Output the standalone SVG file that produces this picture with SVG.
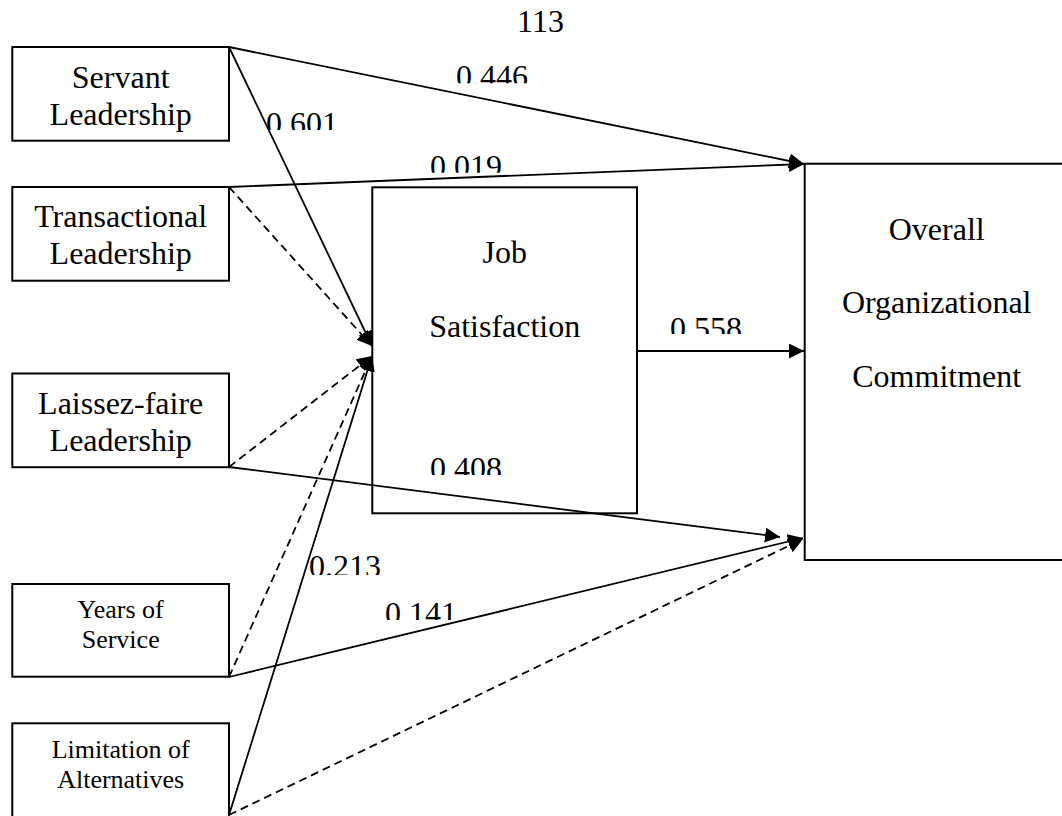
<svg xmlns="http://www.w3.org/2000/svg" width="1062" height="816" viewBox="0 0 1062 816">
  <style>
    .box { fill: #fff; stroke: #000; stroke-width: 2; }
    .lbl { font-family: "Liberation Serif", "Times New Roman", serif; font-size: 32px; fill: #000; text-anchor: middle; }
    .sm { font-size: 26px; }
    .coef { font-family: "Liberation Serif", "Times New Roman", serif; font-size: 32px; fill: #000; }
    .path { fill: none; stroke: #000; stroke-width: 1.8; }
    .dash { stroke-dasharray: 8 5; }
  </style>
  <defs>
    <marker id="arrow" markerUnits="userSpaceOnUse" markerWidth="16" markerHeight="16" refX="15" refY="7.5" orient="auto">
      <path d="M0,0 L15,7.5 L0,15 Z" fill="#000"/>
    </marker>
    <!-- coefficient labels sit in short text frames that cut off the bottom of the digits -->
    <clipPath id="c446" clipPathUnits="userSpaceOnUse"><rect x="450" y="55" width="90" height="28.3"/></clipPath>
    <clipPath id="c601" clipPathUnits="userSpaceOnUse"><rect x="260" y="100" width="90" height="30"/></clipPath>
    <clipPath id="c019" clipPathUnits="userSpaceOnUse"><rect x="424" y="145" width="90" height="27.7"/></clipPath>
    <clipPath id="c558" clipPathUnits="userSpaceOnUse"><rect x="664" y="305" width="90" height="29"/></clipPath>
    <clipPath id="c408" clipPathUnits="userSpaceOnUse"><rect x="424" y="445" width="90" height="30"/></clipPath>
    <clipPath id="c213" clipPathUnits="userSpaceOnUse"><rect x="303" y="545" width="90" height="30"/></clipPath>
    <clipPath id="c141" clipPathUnits="userSpaceOnUse"><rect x="379" y="590" width="90" height="30"/></clipPath>
  </defs>

  <rect width="1062" height="816" fill="#fff"/>

  <text class="lbl" x="540.5" y="32.3">113</text>

  <!-- nodes -->
  <g id="servant">
    <rect class="box" x="12.3" y="47" width="216.7" height="93.7"/>
    <text class="lbl" x="120.7" y="87.5">Servant</text>
    <text class="lbl" x="120.7" y="124.5">Leadership</text>
  </g>
  <g id="transactional">
    <rect class="box" x="12.3" y="187" width="216.7" height="93.7"/>
    <text class="lbl" x="120.7" y="227">Transactional</text>
    <text class="lbl" x="120.7" y="264">Leadership</text>
  </g>
  <g id="laissez-faire">
    <rect class="box" x="12.3" y="373.5" width="216.7" height="93.7"/>
    <text class="lbl" x="120.7" y="413.5">Laissez-faire</text>
    <text class="lbl" x="120.7" y="450.5">Leadership</text>
  </g>
  <g id="years-of-service">
    <rect class="box" x="12.3" y="584" width="216.7" height="92.7"/>
    <text class="lbl sm" x="120.7" y="618.3">Years of</text>
    <text class="lbl sm" x="120.7" y="648.3">Service</text>
  </g>
  <g id="limitation-of-alternatives">
    <rect class="box" x="12.3" y="723.3" width="216.7" height="100"/>
    <text class="lbl sm" x="120.7" y="758.3">Limitation of</text>
    <text class="lbl sm" x="120.7" y="788.3">Alternatives</text>
  </g>
  <g id="job-satisfaction">
    <rect class="box" x="372.3" y="187.3" width="264.7" height="326"/>
    <text class="lbl" x="504.7" y="263">Job</text>
    <text class="lbl" x="504.7" y="337">Satisfaction</text>
  </g>
  <g id="overall-commitment">
    <rect class="box" x="804.7" y="163.7" width="270" height="396.3"/>
    <text class="lbl" x="936.7" y="240">Overall</text>
    <text class="lbl" x="936.7" y="313.3">Organizational</text>
    <text class="lbl" x="936.7" y="387">Commitment</text>
  </g>

  <!-- connectors -->
  <g id="connectors">
    <line class="path" x1="229" y1="47" x2="804" y2="164" marker-end="url(#arrow)"/>
    <line class="path" x1="229" y1="47" x2="372" y2="346" marker-end="url(#arrow)"/>
    <line class="path" x1="229" y1="187" x2="804" y2="164" marker-end="url(#arrow)"/>
    <line class="path dash" x1="229" y1="187" x2="372" y2="346" marker-end="url(#arrow)"/>
    <line class="path dash" x1="229" y1="467" x2="372" y2="356" marker-end="url(#arrow)"/>
    <line class="path" x1="229" y1="467" x2="780" y2="537" marker-end="url(#arrow)"/>
    <line class="path dash" x1="229" y1="677" x2="372" y2="356" marker-end="url(#arrow)"/>
    <line class="path" x1="229" y1="677" x2="803" y2="538" marker-end="url(#arrow)"/>
    <line class="path" x1="229" y1="815" x2="372" y2="356" marker-end="url(#arrow)"/>
    <line class="path dash" x1="229" y1="815" x2="803" y2="539" marker-end="url(#arrow)"/>
    <line class="path" x1="637" y1="351" x2="804" y2="351" marker-end="url(#arrow)"/>
  </g>

  <!-- path coefficients -->
  <g id="coefficients">
    <text class="coef" x="456" y="86.8" clip-path="url(#c446)">0.446</text>
    <text class="coef" x="266" y="133.5" clip-path="url(#c601)">0.601</text>
    <text class="coef" x="430" y="176.8" clip-path="url(#c019)">0.019</text>
    <text class="coef" x="670" y="338.5" clip-path="url(#c558)">0.558</text>
    <text class="coef" x="430" y="478.5" clip-path="url(#c408)">0.408</text>
    <text class="coef" x="309" y="576.8" clip-path="url(#c213)">0.213</text>
    <text class="coef" x="385" y="623.5" clip-path="url(#c141)">0.141</text>
  </g>
</svg>
